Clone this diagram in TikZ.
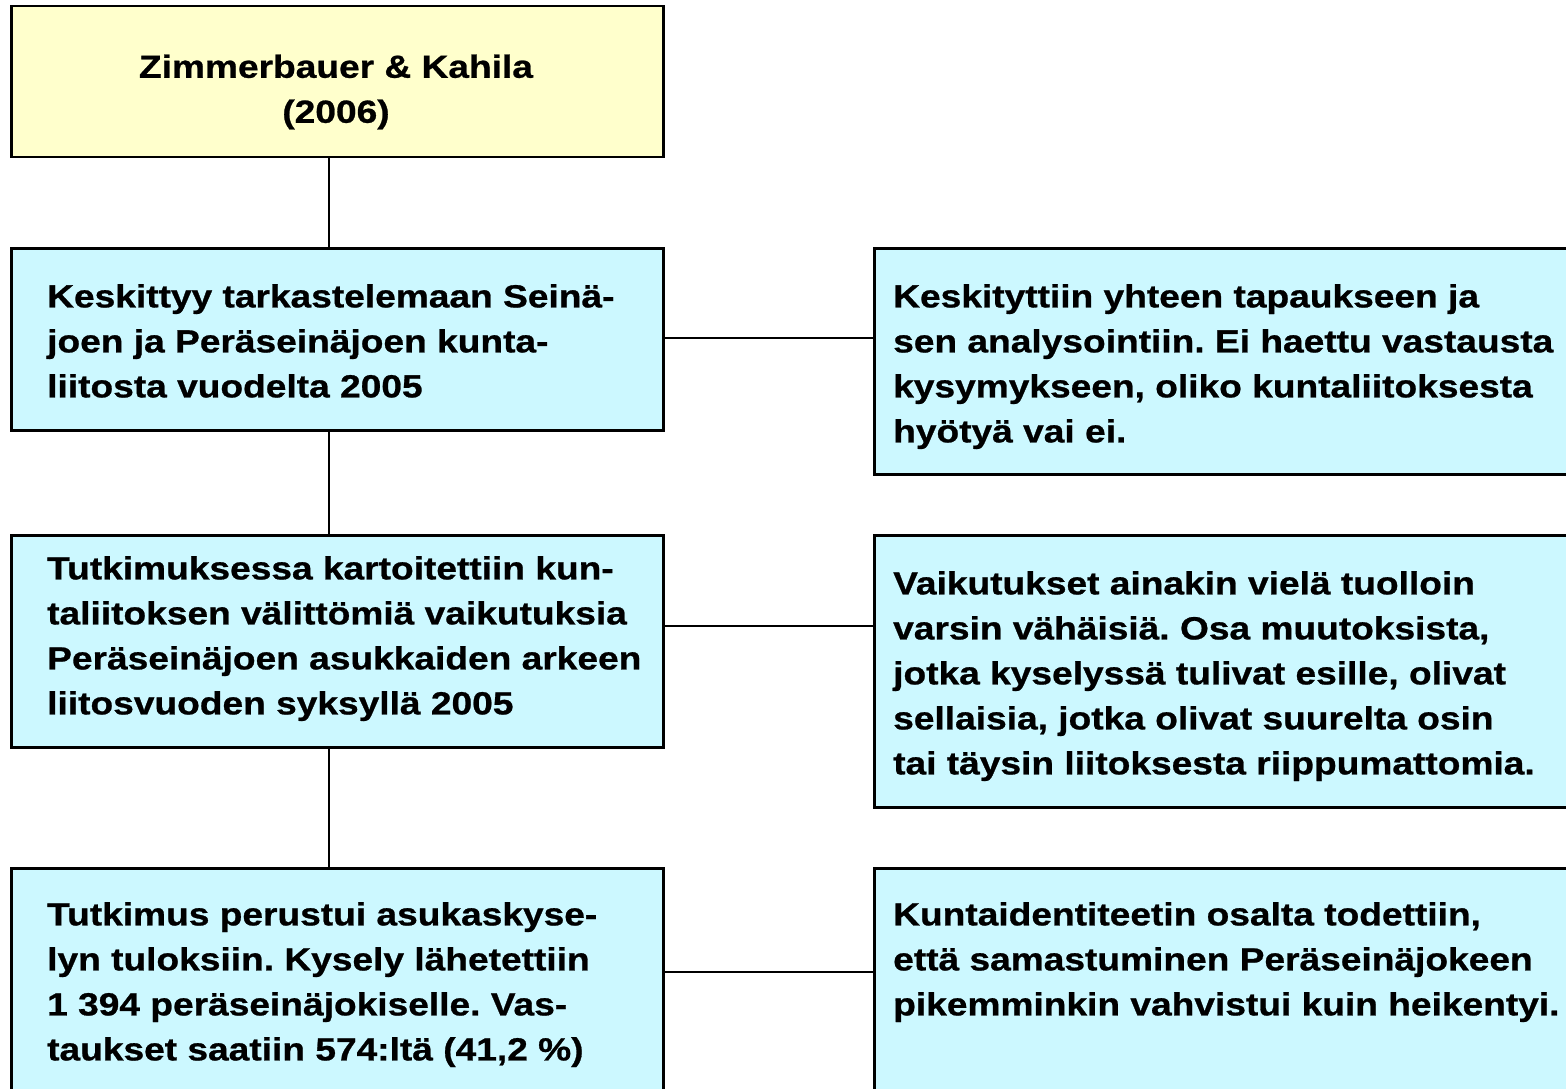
\documentclass[tikz,border=0pt]{standalone}
\usepackage{fontspec}
\setmainfont[FakeStretch=1.16,BoldFeatures={FakeStretch=1.16,FakeBold=0.8}]{Liberation Sans}
\definecolor{boxyellow}{RGB}{255,255,204}
\definecolor{boxcyan}{RGB}{204,248,255}
\begin{document}
\frenchspacing
\begin{tikzpicture}[x=1pt,y=-1pt,
  box/.style={draw=black,line width=2.5pt,anchor=north west,inner sep=0pt},
  ybox/.style={box,fill=boxyellow},
  cbox/.style={box,fill=boxcyan},
  txt/.style={font=\bfseries\fontsize{32}{45}\selectfont,align=left,inner sep=0pt,anchor=north west},
  link/.style={line width=1.8pt}]
\useasboundingbox (0,0) rectangle (1566,1089);
\clip (0,0) rectangle (1566,1089);
% boxes
\node[ybox,minimum width=652pt,minimum height=151pt] (top) at (10,5) {};
\node[cbox,minimum width=652pt,minimum height=182pt] (l1) at (10,247) {};
\node[cbox,minimum width=652pt,minimum height=212pt] (l2) at (10,534) {};
\node[cbox,minimum width=652pt,minimum height=240pt] (l3) at (10,867) {};
\node[cbox,minimum width=720pt,minimum height=226pt] (r1) at (873,247) {};
\node[cbox,minimum width=720pt,minimum height=272pt] (r2) at (873,534) {};
\node[cbox,minimum width=720pt,minimum height=240pt] (r3) at (873,867) {};
% helper coordinates
\coordinate (vx) at (329,0);
\coordinate (h1) at (0,338);
\coordinate (h2) at (0,626);
\coordinate (h3) at (0,972);
% connectors
\draw[link] (top.south -| vx) -- (l1.north -| vx);
\draw[link] (l1.south -| vx) -- (l2.north -| vx);
\draw[link] (l2.south -| vx) -- (l3.north -| vx);
\draw[link] (l1.east |- h1) -- (r1.west |- h1);
\draw[link] (l2.east |- h2) -- (r2.west |- h2);
\draw[link] (l3.east |- h3) -- (r3.west |- h3);
% texts
\node[txt,align=center,anchor=center] (t0) at (336,92) {Zimmerbauer \& Kahila\\(2006)};
\node[txt] (t1) at (47,284) {Keskittyy tarkastelemaan Seinä-\\joen ja Peräseinäjoen kunta-\\liitosta vuodelta 2005};
\node[txt] (t2) at (47,556) {Tutkimuksessa kartoitettiin kun-\\taliitoksen välittömiä vaikutuksia\\Peräseinäjoen asukkaiden arkeen\\liitosvuoden syksyllä 2005};
\node[txt] (t3) at (47,902) {Tutkimus perustui asukaskyse-\\lyn tuloksiin. Kysely lähetettiin\\1 394 peräseinäjokiselle. Vas-\\taukset saatiin 574:ltä (41,2 \%)};
\node[txt] (s1) at (893,284) {Keskityttiin yhteen tapaukseen ja\\sen analysointiin. Ei haettu vastausta\\kysymykseen, oliko kuntaliitoksesta\\hyötyä vai ei.};
\node[txt] (s2) at (893,571) {Vaikutukset ainakin vielä tuolloin\\varsin vähäisiä. Osa muutoksista,\\jotka kyselyssä tulivat esille, olivat\\sellaisia, jotka olivat suurelta osin\\tai täysin liitoksesta riippumattomia.};
\node[txt] (s3) at (893,902) {Kuntaidentiteetin osalta todettiin,\\että samastuminen Peräseinäjokeen\\pikemminkin vahvistui kuin heikentyi.};
\end{tikzpicture}
\end{document}
